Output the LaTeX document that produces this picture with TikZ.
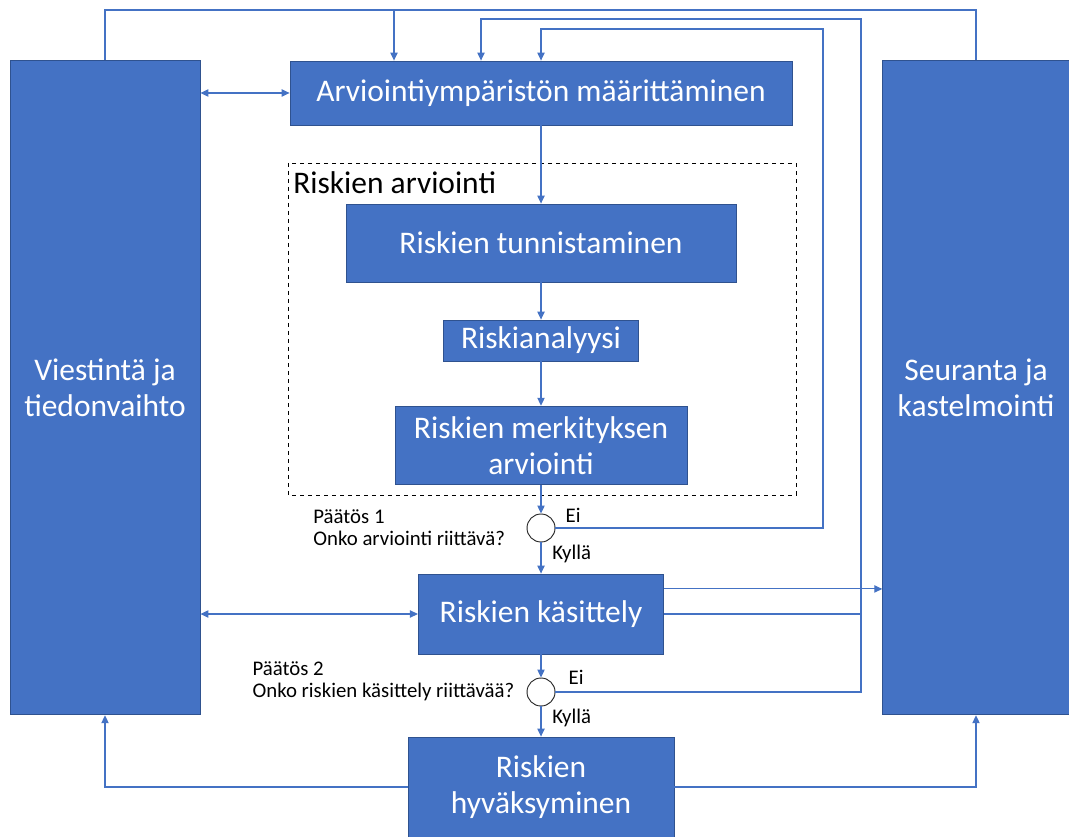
\documentclass[tikz,border=0pt]{standalone}
\usepackage{fontspec}
\setmainfont{Carlito}
\usetikzlibrary{positioning, arrows.meta, calc}
\definecolor{ofblue}{HTML}{4472C4}
\definecolor{ofedge}{HTML}{2F528F}

\begin{document}
\begin{tikzpicture}[
  x=0.75pt, y=-0.75pt,
  box/.style={rectangle, draw=ofedge, line width=0.6pt, fill=ofblue, text=white, align=center, inner sep=2pt, font=\fontsize{23.6}{27}\selectfont},
  dec/.style={circle, draw=black!85, line width=0.7pt, fill=white, minimum size=21pt, inner sep=0pt},
  note/.style={font=\fontsize{15.6}{16.5}\selectfont, align=left, inner sep=0pt},
  link/.style={draw=ofblue, line width=0.8pt},
  arr/.style={link, -{Triangle[length=6pt,width=5.5pt]}},
  darr/.style={link, {Triangle[length=6pt,width=5.5pt]}-{Triangle[length=6pt,width=5.5pt]}}
]
\useasboundingbox (0,0) rectangle (1069,837);

\node (viest) [box, minimum width=142.5pt, minimum height=491pt] at (105,387.5) {Viestintä ja\\tiedonvaihto};
\node (seur) [box, minimum width=140pt, minimum height=491pt] at (976,387.5) {Seuranta ja\\kastelmointi};
\node (ymp) [box, minimum width=376.5pt, minimum height=48pt] at (541,93) {Arviointiympäristön määrittäminen};

% riskien arviointi
\draw[dashed, line width=0.7pt] (288,163) rectangle (796,495);
\node (arvl) [anchor=base west, inner sep=0pt, font=\fontsize{23.6}{27}\selectfont] at (293,194) {Riskien arviointi};
\node (tunn) [box, minimum width=292.5pt, minimum height=58.5pt] at (541,243) {Riskien tunnistaminen};
\node (anal) [box, minimum width=146pt, minimum height=30.75pt] at (541,340.5) {Riskianalyysi};
\node (merk) [box, minimum width=219pt, minimum height=59pt] at (541,445.5) {Riskien merkityksen\\arviointi};

\node (d1) [dec] at (541,528) {};                 % päätös 1
\node (kas) [box, minimum width=184pt, minimum height=60pt] at (541,614) {Riskien käsittely};
\node (d2) [dec] at (541,692) {};                 % päätös 2
\node (hyv) [box, minimum width=199.5pt, minimum height=75pt] at (541,787) {Riskien\\hyväksyminen};

\node (q1) [note, left=16pt of d1] {Päätös 1\\Onko arviointi riittävä?};
\node (q2) [note, anchor=east] at ($(d2.west)+(-12,-11)$) {Päätös 2\\Onko riskien käsittely riittävää?};
\node (ei1) [note, anchor=west] at ($(d1.east)+(10,-13)$) {Ei};
\node (ky1) [note, anchor=west] at ($(d1.south)+(11,11)$) {Kyllä};
\node (ei2) [note, anchor=west] at ($(d2.east)+(13,-15)$) {Ei};
\node (ky2) [note, anchor=west] at ($(d2.south)+(11,11)$) {Kyllä};

\draw[arr] (ymp) -- (tunn);
\draw[arr] (tunn) -- (anal);
\draw[arr] (anal) -- (merk);
\draw[arr] (merk) -- (d1);
\draw[arr] (d1) -- (kas);
\draw[arr] (kas) -- (d2);
\draw[arr] (d2) -- (hyv);

\draw[darr] (viest.east |- ymp) -- (ymp.west);
\draw[darr] (viest.east |- kas) -- (kas.west);
\coordinate (kasr) at ($(kas.north east)!0.19!(kas.south east)$);
\draw[arr] (kasr) -- (kasr -| seur.west);

% takaisinkytkennät ylös
\coordinate (topA) at (394,10);
\draw[link] (viest.north) |- (topA) -| (seur.north);
\draw[arr] (topA) -- (topA |- ymp.north);
\coordinate (loopB) at (861,19);
\draw[arr] (d2.east) -| (loopB) -| ($(ymp.north)+(-60,0)$);
\draw[link] (kas.east) -- (kas.east -| loopB);
\coordinate (loopC) at (823,29);
\draw[arr] (d1.east) -| (loopC) -| (ymp.north);

\draw[arr] (hyv.west) -| (viest.south);
\draw[arr] (hyv.east) -| (seur.south);
\end{tikzpicture}
\end{document}
